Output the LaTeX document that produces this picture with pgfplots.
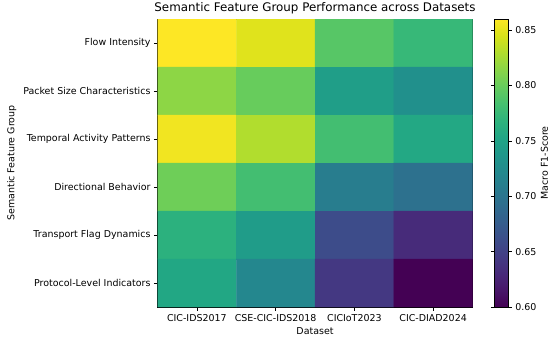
\documentclass[border=0pt]{standalone}
\usepackage{pgfplots}
\pgfplotsset{compat=1.18}
\usepackage{fontspec}
\setmainfont{DejaVu Sans}
\begin{document}
\begin{tikzpicture}
\useasboundingbox (0,0) rectangle (550bp,339bp);
\begin{axis}[
  at={(157.5bp,32bp)}, anchor=south west,
  scale only axis, width=315bp, height=288bp,
  font=\fontsize{9.5}{11}\selectfont,
  /pgf/number format/assume math mode=true,
  xmin=-0.5, xmax=3.5, ymin=-0.5, ymax=5.5,
  y dir=reverse,
  xtick={0,1,2,3},
  xticklabels={CIC-IDS2017,CSE-CIC-IDS2018,CICIoT2023,CIC-DIAD2024},
  ytick={0,1,2,3,4,5},
  yticklabels={Flow Intensity,Packet Size Characteristics,Temporal Activity Patterns,Directional Behavior,Transport Flag Dynamics,Protocol-Level Indicators},
  tick align=outside, xtick pos=bottom, ytick pos=left,
  major tick length=3.5bp,
  tick style={black, line width=0.6pt},
  axis line style={line width=0.6pt},
  xlabel={Dataset}, ylabel={Semantic Feature Group},
  title={Semantic Feature Group Performance across Datasets},
  title style={font=\fontsize{11.9}{14}\selectfont, yshift=-4.5bp},
  colormap/viridis,
  point meta min=0.60, point meta max=0.86,
  colorbar,
  colorbar style={
    at={(parent axis.north east)}, anchor=north west, xshift=13.3bp,
    width=14bp,
    ytick={0.60,0.65,0.70,0.75,0.80,0.85},
    yticklabel style={/pgf/number format/.cd, fixed, fixed zerofill, precision=2},
    ylabel={Macro F1-Score},
    ylabel style={at={(rel axis cs:1,0.5)}, anchor=center, yshift=-36bp},
    tick align=outside, major tick length=3.5bp,
    tick style={black, line width=0.6pt},
    axis line style={line width=0.6pt},
    font=\fontsize{9.5}{11}\selectfont,
    /pgf/number format/assume math mode=true,
  },
]
\addplot[matrix plot*, mesh/cols=4, point meta=explicit] table[meta=z] {
x y z
0 0 0.860
1 0 0.848
2 0 0.792
3 0 0.774
0 1 0.816
1 1 0.800
2 1 0.745
3 1 0.730
0 2 0.855
1 2 0.830
2 2 0.782
3 2 0.756
0 3 0.803
1 3 0.782
2 3 0.709
3 3 0.696
0 4 0.766
1 4 0.743
2 4 0.660
3 4 0.631
0 5 0.755
1 5 0.720
2 5 0.642
3 5 0.600
};
\end{axis}
\end{tikzpicture}
\end{document}
